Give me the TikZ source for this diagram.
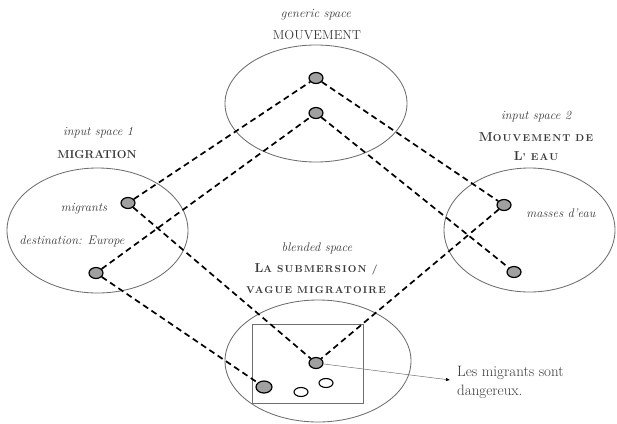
\documentclass[tikz,border=0pt]{standalone}
\usepackage{fontspec}
\setmainfont{Latin Modern Roman}
\usetikzlibrary{shapes.geometric,arrows.meta}
\definecolor{txt}{HTML}{383838}
\definecolor{ring}{HTML}{6E6E6E}
\definecolor{dotfill}{HTML}{A0A0A0}
\newcommand\smcap[1]{{\fontsize{10}{12}\selectfont\addfontfeature{LetterSpace=12}#1}}
\newcommand\capbig[1]{{\fontsize{13}{15}\selectfont #1}}
\begin{document}
\begin{tikzpicture}[x=1pt,y=-1pt,
  space/.style={ellipse, draw=ring, line width=0.85pt, inner sep=0pt},
  dot/.style={ellipse, draw=black, fill=dotfill, line width=1.2pt, minimum width=14pt, minimum height=11pt, inner sep=0pt},
  hollow/.style={ellipse, draw=black, fill=white, line width=1.1pt, minimum width=14pt, minimum height=9pt, inner sep=0pt},
  link/.style={draw=black, line width=1.7pt, dash pattern=on 6pt off 4pt},
  itlabel/.style={text=txt, font=\fontsize{12.5}{15}\selectfont\itshape, inner sep=0pt},
  caplabel/.style={text=txt, inner sep=0pt},
]
\useasboundingbox (0,0) rectangle (617,423);

% spaces
\node[space, minimum width=182pt, minimum height=117pt] (gen) at (316,103.5) {};
\node[space, minimum width=181pt, minimum height=125pt] (in1) at (97.5,230.5) {};
\node[space, minimum width=171pt, minimum height=124pt] (in2) at (529.5,230) {};
\node[space, minimum width=186pt, minimum height=122pt] (bl) at (318,361) {};
\node[draw=ring, line width=1pt, minimum width=111pt, minimum height=79pt, inner sep=0pt] (frame) at (307.5,363.5) {};

% titles
\node[itlabel] (tgen) at (316,15) {generic space};
\node[caplabel, font=\fontsize{13}{15}\selectfont] (ngen) at (317,35) {MOUVEMENT};
\node[itlabel] (tin1) at (98,133) {input space 1};
\node[caplabel, font=\fontsize{11.5}{14}\selectfont\bfseries] (nin1) at (97,155) {MIGRATION};
\node[itlabel] (tin2) at (536,117) {input space 2};
\node[caplabel, font=\bfseries] (nin2a) at (536,137) {\capbig{M}\smcap{OUVEMENT DE}};
\node[caplabel, font=\bfseries] (nin2b) at (536,156) {\capbig{L}\smcap{’ EAU}};
\node[itlabel] (tbl) at (317,248) {blended space};
\node[caplabel, font=\bfseries] (nbla) at (316,269) {\capbig{L}\smcap{A SUBMERSION /}};
\node[caplabel, font=\bfseries] (nblb) at (316,290) {\smcap{VAGUE MIGRATOIRE}};

% inner texts
\node[itlabel] (lmig) at (84,209) {migrants};
\node[itlabel] (ldest) at (72,241) {destination: Europe};
\node[itlabel] (lwater) at (561,213) {masses d’eau};

% dots
\node[dot] (g1) at (316,78) {};
\node[dot] (g2) at (316,113) {};
\node[dot] (m1) at (128,203) {};
\node[dot] (m2) at (96,273) {};
\node[dot] (r1) at (504,205) {};
\node[dot] (r2) at (514,272) {};
\node[dot] (b1) at (316,363) {};
\node[dot, minimum width=16pt, minimum height=12pt] (b2) at (264,387) {};
\node[hollow] (w1) at (301,392) {};
\node[hollow] (w2) at (326,383) {};

% dashed projections
\draw[link] (m1) -- (g1);
\draw[link] (g1) -- (r1);
\draw[link] (m2) -- (g2);
\draw[link] (g2) -- (r2);
\draw[link] (m1) -- (b1);
\draw[link] (r1) -- (b1);
\draw[link] (m2) -- (b2);

% note
\coordinate (tip) at (450,380);
\draw[draw=ring, line width=0.5pt, -{Latex[black, length=4pt, width=3.5pt]}] (b1) -- (tip);
\node[anchor=west, align=left, text=txt, font=\fontsize{15}{19}\selectfont, inner sep=0pt] (note) at (457,382) {Les migrants sont\\dangereux.};
\end{tikzpicture}
\end{document}
